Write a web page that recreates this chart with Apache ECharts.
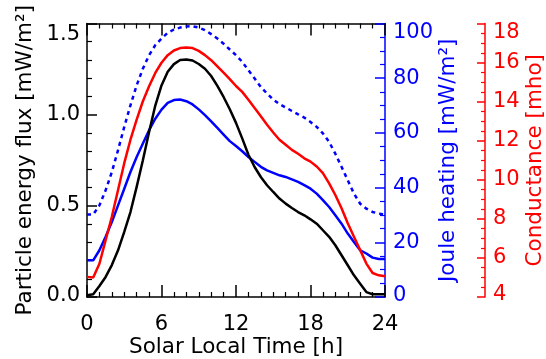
<!DOCTYPE html>
<html>
<head>
<meta charset="utf-8">
<script src="https://cdn.jsdelivr.net/npm/echarts@6/dist/echarts.min.js"></script>
<style>html,body{margin:0;padding:0;background:#fff;}#c{width:546px;height:359px;}</style>
</head>
<body>
<div id="c"></div>
<script>
// Solar local time (h)
const hours = [0,0.5,1,1.5,2,2.5,3,3.5,4,4.5,5,5.5,6,6.5,7,7.5,8,8.5,9,9.5,10,10.5,11,11.5,12,12.5,13,13.5,14,14.5,15,15.5,16,16.5,17,17.5,18,18.5,19,19.5,20,20.5,21,21.5,22,22.5,23,23.5,24];
// Particle energy flux [mW/m2] (black, left axis)
const particleFlux = [0.01,0.015,0.06,0.11,0.175,0.256,0.357,0.466,0.604,0.75,0.905,1.05,1.16,1.235,1.277,1.30,1.303,1.297,1.278,1.252,1.212,1.158,1.097,1.03,0.955,0.87,0.78,0.713,0.658,0.613,0.576,0.54,0.512,0.488,0.466,0.448,0.426,0.402,0.366,0.33,0.284,0.229,0.174,0.119,0.073,0.027,0.015,0.015,0.015];
// Joule heating [mW/m2] (blue solid)
const jouleSolid = [13.4,13.4,17.1,22.0,27.4,33.5,39.6,45.7,51.2,56.1,61.0,65.2,68.5,71.0,72.0,72.2,71.6,70.4,68.6,66.5,64.2,61.8,59.4,57.0,55.2,53.3,51.2,49.4,47.6,46.3,45.4,44.5,43.9,43.0,42.1,40.9,39.6,37.8,35.4,32.9,29.9,26.8,23.2,20.1,17.1,15.9,14.4,13.9,13.9];
// Joule heating [mW/m2] (blue dotted)
const jouleDotted = [30.2,30.2,33.5,39.0,45.7,53.7,62.2,70.1,77.4,83.5,88.4,92.1,94.5,96.6,97.8,98.5,98.9,99.0,98.5,97.6,96.1,94.5,92.6,90.5,88.4,86.0,82.9,79.9,76.8,74.4,72.2,70.5,69.3,68.0,66.8,65.6,64.0,62.2,59.8,56.7,52.4,47.6,42.7,37.8,34.1,32.3,31.1,30.5,30.2];
// Conductance [mho] (red)
const conductance = [5.03,5.0,5.7,6.91,8.11,9.48,10.85,12.05,13.08,14.02,14.79,15.47,15.99,16.38,16.62,16.74,16.77,16.74,16.6,16.38,16.12,15.8,15.48,15.15,14.8,14.5,14.1,13.67,13.25,12.82,12.42,12.05,11.79,11.53,11.33,11.1,10.93,10.68,10.34,9.82,9.22,8.54,7.77,7.08,6.4,5.71,5.23,5.11,5.06];

const xTitle = 'Solar Local Time [h]';
const yLeftTitle = 'Particle energy flux [mW/m²]';
const yBlueTitle = 'Joule heating [mW/m²]';
const yRedTitle = 'Conductance [mho]';

const pairs = arr => hours.map((h, i) => [h, arr[i]]);
const FONT = 'DejaVu Sans';
const FS = 21;
const TFS = 21.5;

function edgeRich(color, downPad, upPad) {
  return {
    t: { fontFamily: FONT, fontSize: FS, color: color, padding: [downPad, 0, 0, 0] },
    b: { fontFamily: FONT, fontSize: FS, color: color, padding: [0, 0, upPad, 0] },
    n: { fontFamily: FONT, fontSize: FS, color: color }
  };
}
function edgeFormatter(min, max, fmt) {
  return v => {
    const s = fmt(v);
    if (Math.abs(v - max) < 1e-9) return '{t|' + s + '}';
    if (Math.abs(v - min) < 1e-9) return '{b|' + s + '}';
    return '{n|' + s + '}';
  };
}

function xAx(pos, showLabel) {
  return {
    type: 'value', min: 0, max: 24, interval: 6, position: pos,
    axisLine: { show: true, onZero: false, lineStyle: { color: '#000', width: 1.5 } },
    axisTick: { show: true, inside: true, length: 12, lineStyle: { color: '#000', width: 1.5 } },
    minorTick: { show: true, splitNumber: 6, length: 5, lineStyle: { color: '#000', width: 1.2 } },
    axisLabel: { show: showLabel, color: '#000', fontFamily: FONT, fontSize: FS, margin: 17 },
    splitLine: { show: false }, minorSplitLine: { show: false },
    name: showLabel ? xTitle : '', nameLocation: 'middle', nameGap: 39, nameMoveOverlap: false,
    nameTextStyle: { color: '#000', fontFamily: FONT, fontSize: TFS }
  };
}

const chart = echarts.init(document.getElementById('c'), null, { renderer: 'canvas' });
chart.setOption({
  animation: false,
  backgroundColor: '#fff',
  grid: { left: 87, right: 161, top: 23.5, bottom: 62, containLabel: false, outerBoundsMode: 'none' },
  xAxis: [xAx('bottom', true), xAx('top', false)],
  yAxis: [
    {
      type: 'value', min: 0, max: 1.5, interval: 0.5, position: 'left',
      axisLine: { show: true, onZero: false, lineStyle: { color: '#000', width: 1.5 } },
      axisTick: { show: true, inside: true, length: 10, lineStyle: { color: '#000', width: 1.5 } },
      minorTick: { show: true, splitNumber: 5, length: 5, lineStyle: { color: '#000', width: 1.2 } },
      axisLabel: { color: '#000', fontFamily: FONT, fontSize: FS, margin: 7,
        formatter: edgeFormatter(0, 1.5, v => v.toFixed(1)), rich: edgeRich('#000', 22, 2) },
      splitLine: { show: false },
      name: yLeftTitle, nameLocation: 'middle', nameGap: 51, nameMoveOverlap: false,
      nameTextStyle: { color: '#000', fontFamily: FONT, fontSize: TFS }
    },
    {
      type: 'value', min: 0, max: 100, interval: 20, position: 'right',
      axisLine: { show: true, onZero: false, lineStyle: { color: '#0000ff', width: 1.5 } },
      axisTick: { show: true, inside: true, length: 10, lineStyle: { color: '#0000ff', width: 1.5 } },
      minorTick: { show: true, splitNumber: 4, length: 5, lineStyle: { color: '#0000ff', width: 1.2 } },
      axisLabel: { color: '#0000ff', fontFamily: FONT, fontSize: FS, margin: 8,
        formatter: edgeFormatter(0, 100, v => String(v)), rich: edgeRich('#0000ff', 19, 3) },
      splitLine: { show: false },
      name: yBlueTitle, nameLocation: 'middle', nameGap: 52, nameMoveOverlap: false,
      nameTextStyle: { color: '#0000ff', fontFamily: FONT, fontSize: TFS }
    },
    {
      type: 'value', min: 4, max: 18, interval: 2, position: 'right', offset: 100,
      axisLine: { show: true, onZero: false, lineStyle: { color: '#ff0000', width: 1.5 } },
      axisTick: { show: true, inside: true, length: 8, lineStyle: { color: '#ff0000', width: 1.5 } },
      minorTick: { show: true, splitNumber: 4, length: 4, lineStyle: { color: '#ff0000', width: 1.2 } },
      axisLabel: { color: '#ff0000', fontFamily: FONT, fontSize: FS, margin: 8,
        formatter: edgeFormatter(4, 18, v => String(v)), rich: edgeRich('#ff0000', 18, 5) },
      splitLine: { show: false },
      name: yRedTitle, nameLocation: 'middle', nameGap: 39, nameMoveOverlap: false,
      nameTextStyle: { color: '#ff0000', fontFamily: FONT, fontSize: TFS }
    }
  ],
  series: [
    { type: 'line', yAxisIndex: 1, data: pairs(jouleDotted), showSymbol: false, symbol: 'none',
      lineStyle: { color: '#0000ff', width: 2.5, type: [4, 4] } },
    { type: 'line', yAxisIndex: 1, data: pairs(jouleSolid), showSymbol: false, symbol: 'none',
      lineStyle: { color: '#0000ff', width: 2.5 } },
    { type: 'line', yAxisIndex: 2, data: pairs(conductance), showSymbol: false, symbol: 'none',
      lineStyle: { color: '#ff0000', width: 2.5 } },
    { type: 'line', yAxisIndex: 0, data: pairs(particleFlux), showSymbol: false, symbol: 'none',
      lineStyle: { color: '#000000', width: 2.5 } }
  ]
});
</script>
</body>
</html>
